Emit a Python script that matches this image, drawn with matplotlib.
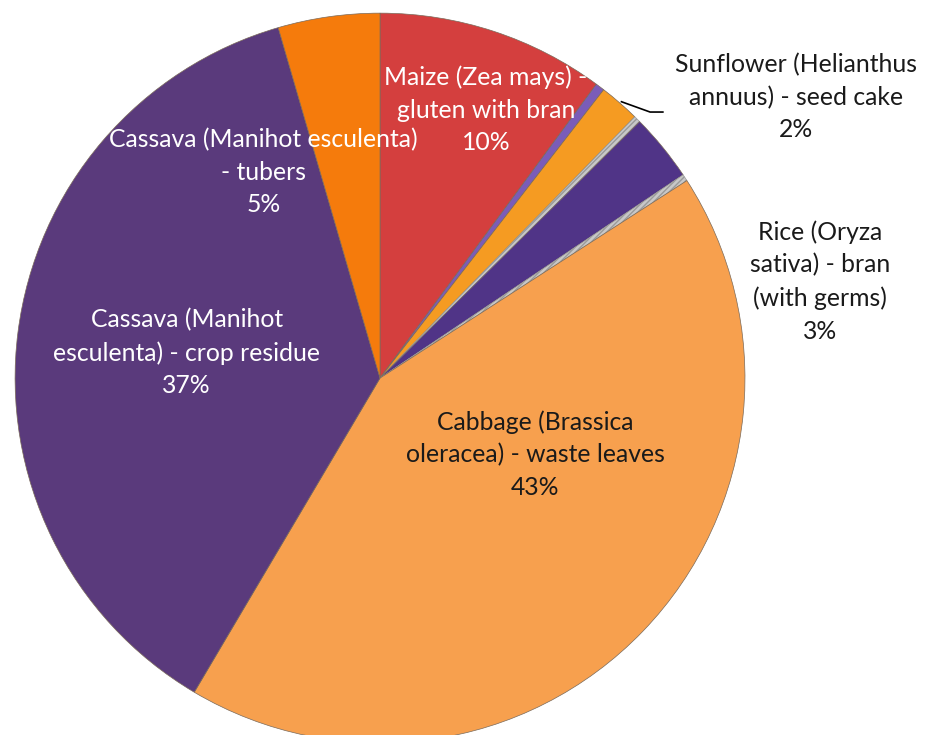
import matplotlib.pyplot as plt
import numpy as np

# slices clockwise from 12 o'clock (the unlabeled ones are tiny residuals)
names = ['Maize (Zea mays) -\ngluten with bran', '', 'Sunflower (Helianthus\nannuus) - seed cake', '',
         'Rice (Oryza\nsativa) - bran\n(with germs)', '', 'Cabbage (Brassica\noleracea) - waste leaves',
         'Cassava (Manihot\nesculenta) - crop residue', 'Cassava (Manihot esculenta)\n- tubers']
shares = [10.1, 0.4, 1.8, 0.3, 3.0, 0.3, 42.6, 37.0, 4.5]
pct_labels = ['10%', '', '2%', '', '3%', '', '43%', '37%', '5%']
colors = ['#D43F3E', '#7A5CB8', '#F59B22', '#C8C8C8', '#503487', '#C8C8C8',
          '#F7A04E', '#5A3A7C', '#F57B0C']
text_colors = ['white', None, '#1a1a1a', None, '#1a1a1a', None, '#1a1a1a', 'white', 'white']
# label centres in axis units (pie radius = 1)
label_pos = [(0.29, 0.735), None, (1.14, 0.77), None, (1.205, 0.265), None,
             (0.425, -0.21), (-0.53, 0.07), (-0.32, 0.565)]

fig = plt.figure(figsize=(9.25, 7.35), dpi=100)
ax = fig.add_axes([0, 0, 1, 1])

wedges, _ = ax.pie(shares, colors=colors, startangle=90, counterclock=False,
                   radius=1, wedgeprops=dict(edgecolor='#7a6a5a', linewidth=0.5))

for w, c in zip(wedges, colors):
    if c == '#C8C8C8':
        w.set_hatch('//////')
        w.set_edgecolor('#9a9a9a')

for i, (name, pct) in enumerate(zip(names, pct_labels)):
    if not name:
        continue
    x, y = label_pos[i]
    ax.text(x, y, name + '\n' + pct, ha='center', va='center', color=text_colors[i],
            fontsize=17.8, family='Lato', linespacing=1.5)

# leader line for the sunflower label
w = wedges[2]
mid = np.deg2rad((w.theta1 + w.theta2) / 2)
x0, y0 = np.cos(mid) * 1.0, np.sin(mid) * 1.0
ax.plot([x0 + 0.005, 0.74, 0.775], [y0 + 0.003, 0.729, 0.729], color='black', lw=1.2)

ax.set_xlim(-1.041, 1.493)
ax.set_ylim(-0.978, 1.036)
ax.set_aspect('equal')
ax.axis('off')

fig.savefig('out.png', dpi=100)
